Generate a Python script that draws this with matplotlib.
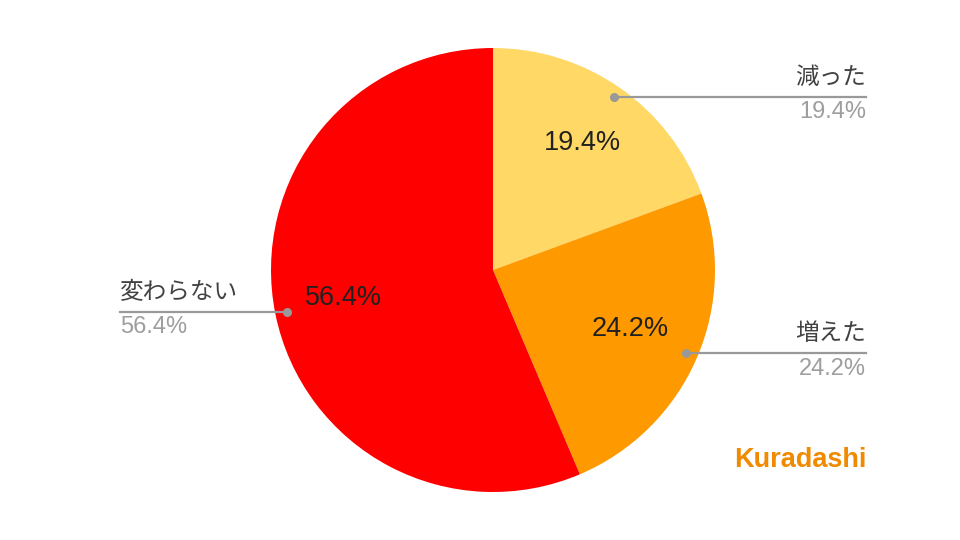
import matplotlib
matplotlib.use("Agg")
import matplotlib.pyplot as plt

plt.rcParams['font.family'] = ['Liberation Sans', 'Noto Sans CJK JP', 'DejaVu Sans']

labels = ["減った", "増えた", "変わらない"]
values = [19.4, 24.2, 56.4]
colors = ["#FFD866", "#FF9900", "#FF0000"]

fig = plt.figure(figsize=(9.6, 5.4), dpi=100)
ax = fig.add_axes([0, 0, 1, 1])

cx, cy, r = 493, 270, 222
ax.pie(values, colors=colors, startangle=90, counterclock=False,
       center=(cx, cy), radius=r, frame=True,
       wedgeprops=dict(linewidth=0))
ax.set_xlim(0, 960)
ax.set_ylim(0, 540)
ax.set_aspect('equal')
ax.axis('off')

def Y(y):
    return 540 - y

# inside labels
inside_pos = [(582, 143), (630, 329), (343, 298)]
for v, (x, y) in zip(values, inside_pos):
    ax.text(x, Y(y), f"{v}%", ha='center', va='center', fontsize=19.5, color='#212121')

line_col = '#999999'
fs = 17
# 減った
ax.plot([614, 866], [Y(97), Y(97)], color=line_col, lw=1.6)
ax.plot([614], [Y(97)], 'o', color=line_col, ms=5.5)
ax.text(866, Y(78), labels[0], ha='right', va='center', fontsize=fs, color='#424242')
ax.text(866, Y(112), f"{values[0]}%", ha='right', va='center', fontsize=fs, color='#9e9e9e')
# 増えた
ax.plot([686, 866], [Y(353), Y(353)], color=line_col, lw=1.6)
ax.plot([686], [Y(353)], 'o', color=line_col, ms=5.5)
ax.text(866, Y(334), labels[1], ha='right', va='center', fontsize=fs, color='#424242')
ax.text(866, Y(369), f"{values[1]}%", ha='right', va='center', fontsize=fs, color='#9e9e9e')
# 変わらない
ax.plot([120, 287], [Y(312), Y(312)], color=line_col, lw=1.6)
ax.plot([287], [Y(312)], 'o', color=line_col, ms=5.5)
ax.text(120, Y(293), labels[2], ha='left', va='center', fontsize=fs, color='#424242')
ax.text(120, Y(327), f"{values[2]}%", ha='left', va='center', fontsize=fs, color='#9e9e9e')

# logo
ax.text(866, Y(460), "Kuradashi", ha='right', va='center', fontsize=19.5,
        fontweight='bold', color='#F08A00', family=['Liberation Sans', 'DejaVu Sans'])

fig.savefig("out.png", dpi=100)
